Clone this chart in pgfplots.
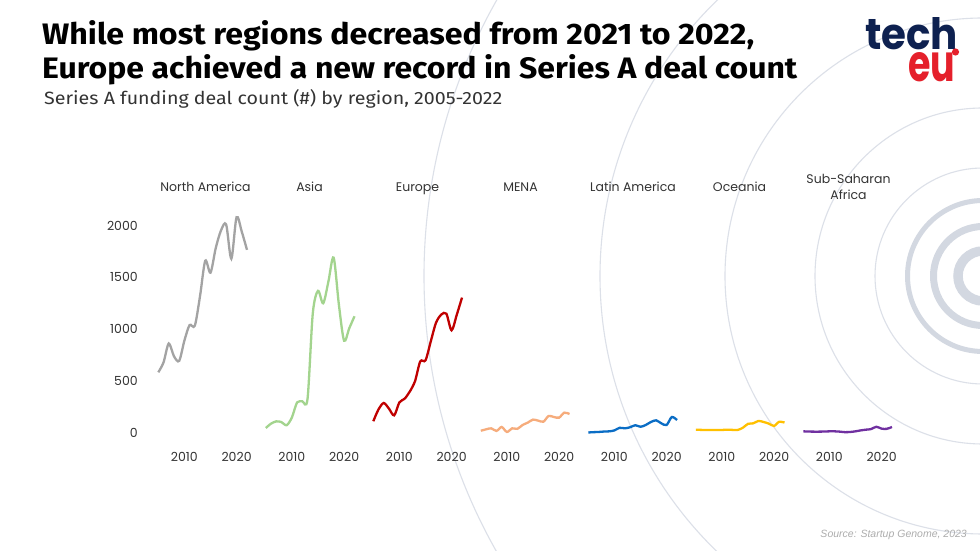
\documentclass[border=0pt]{standalone}
\usepackage{pgfplots}
\usepackage{pgfplotstable}
\pgfplotsset{compat=1.18}
\usepackage{fontspec}
\setmainfont{Poppins}
\newfontfamily\titlefont{Fira Sans}
\newfontfamily\srcfont{Liberation Sans}
\definecolor{ringc}{HTML}{DCE0E8}
\definecolor{ringt}{HTML}{D3D8E1}
\definecolor{txt}{HTML}{333333}
\definecolor{navy}{HTML}{0E2150}
\definecolor{logored}{HTML}{E5202B}
\definecolor{cNA}{HTML}{A3A3A3}
\definecolor{cAS}{HTML}{A3D48E}
\definecolor{cEU}{HTML}{C00000}
\definecolor{cME}{HTML}{F6AC7C}
\definecolor{cLA}{HTML}{0A6DC5}
\definecolor{cOC}{HTML}{FFC000}
\definecolor{cSS}{HTML}{7030A0}

\pgfplotstableread{
year NA   AS   EU   ME  LA  OC  SS
2005 585  48   113  22  5   32  16
2006 680  90   228  35  8   30  14
2007 862  112  289  45  10  29  13
2008 740  105  235  20  14  29  13
2009 695  75   170  58  16  29  14
2010 890  150  295  10  25  29  16
2011 1040 295  330  45  50  32  16
2012 1035 305  400  40  45  30  13
2013 1320 330  500  77  55  29  8
2014 1660 1150 690  100 75  50  10
2015 1545 1370 700  129 60  88  16
2016 1780 1250 880  119 77  93  25
2017 1950 1460 1060 109 106 116 32
2018 2010 1690 1140 164 122 106 38
2019 1680 1240 1150 154 93  90  60
2020 2080 890  990  148 77  68  42
2021 1940 1010 1140 196 154 109 40
2022 1765 1125 1305 183 125 100 58
}\deals

\pgfplotsset{
  panel/.style={
    scale only axis, width=88.7pt, height=217.9pt,
    xmin=2005, xmax=2022, ymin=0, ymax=2100,
    clip=false,
    axis line style={draw=none},
    tick style={draw=none},
    major tick length=0pt,
    xtick={2010,2020}, ytick=\empty,
    /pgf/number format/1000 sep={},
    /pgf/number format/assume math mode=true,
    tick label style={font=\fontsize{12.5}{14}\selectfont, text=txt},
    xticklabel style={anchor=center, yshift=-24pt},
    yticklabel style={anchor=east, xshift=-17pt},
    anchor=south west,
  },
  ser/.style={line width=2.3pt, smooth, no markers},
}

\begin{document}
\begin{tikzpicture}[x=1pt,y=1pt]
\useasboundingbox (0,0) rectangle (980,551);
\fill[white] (0,0) rectangle (980,551);
% background rings
\begin{scope}
\clip (0,0) rectangle (980,551);
\foreach \r in {108,168,258,383,559}
  \draw[ringc, line width=1.1pt] (983,275) circle[radius=\r pt];
\draw[ringt, line width=5pt] (983,275) circle[radius=75.5pt];
\draw[ringt, line width=7pt] (983,275) circle[radius=49.5pt];
\draw[ringt, line width=9.5pt] (983,275) circle[radius=25pt];
\end{scope}

% titles
\node[anchor=base west, inner sep=0, text=black] at (42,506)
  {\resizebox{712pt}{24pt}{\titlefont\bfseries While most regions decreased from 2021 to 2022,}};
\node[anchor=base west, inner sep=0, text=black] at (42,472)
  {\resizebox{755pt}{24pt}{\titlefont\bfseries Europe achieved a new record in Series A deal count}};
\node[anchor=base west, inner sep=0, text=txt] at (44,446.6)
  {\resizebox{458pt}{15pt}{\titlefont Series A funding deal count (\#) by region, 2005-2022}};

% logo
\node[anchor=base west, inner sep=0, text=navy] at (865,501)
  {\resizebox{93pt}{32pt}{\bfseries tech}};
\node[anchor=base west, inner sep=0, text=logored] at (908,469)
  {\resizebox{47pt}{29pt}{\bfseries eu}};
\fill[logored] (955.5,499) circle[radius=3.6pt];

% panels
\begin{axis}[panel, at={(158.3pt,118pt)}, ytick={0,500,1000,1500,2000}]
\addplot[ser, cNA] table[x=year,y=NA]{\deals};
\end{axis}
\begin{axis}[panel, at={(265.8pt,118pt)}]
\addplot[ser, cAS] table[x=year,y=AS]{\deals};
\end{axis}
\begin{axis}[panel, at={(373.3pt,118pt)}]
\addplot[ser, cEU] table[x=year,y=EU]{\deals};
\end{axis}
\begin{axis}[panel, at={(480.8pt,118pt)}]
\addplot[ser, cME] table[x=year,y=ME]{\deals};
\end{axis}
\begin{axis}[panel, at={(588.3pt,118pt)}]
\addplot[ser, cLA] table[x=year,y=LA]{\deals};
\end{axis}
\begin{axis}[panel, at={(695.8pt,118pt)}]
\addplot[ser, cOC] table[x=year,y=OC]{\deals};
\end{axis}
\begin{axis}[panel, at={(803.3pt,118pt)}]
\addplot[ser, cSS] table[x=year,y=SS]{\deals};
\end{axis}

% panel labels
\begin{scope}[every node/.style={anchor=base, inner sep=0, text=txt, font=\fontsize{12.5}{15}\selectfont}]
\node at (205.5,359) {North America};
\node at (309.5,359) {Asia};
\node at (417.5,359) {Europe};
\node at (520.5,359) {MENA};
\node at (633,359) {Latin America};
\node at (739.5,359) {Oceania};
\node at (848.5,367.6) {Sub-Saharan};
\node at (848.5,351.4) {Africa};
\end{scope}

% source
\node[anchor=mid east, inner sep=0, text=black!32, font=\srcfont\itshape\fontsize{10.5}{12}\selectfont] at (967,16) {Source: Startup Genome, 2023};
\end{tikzpicture}
\end{document}
